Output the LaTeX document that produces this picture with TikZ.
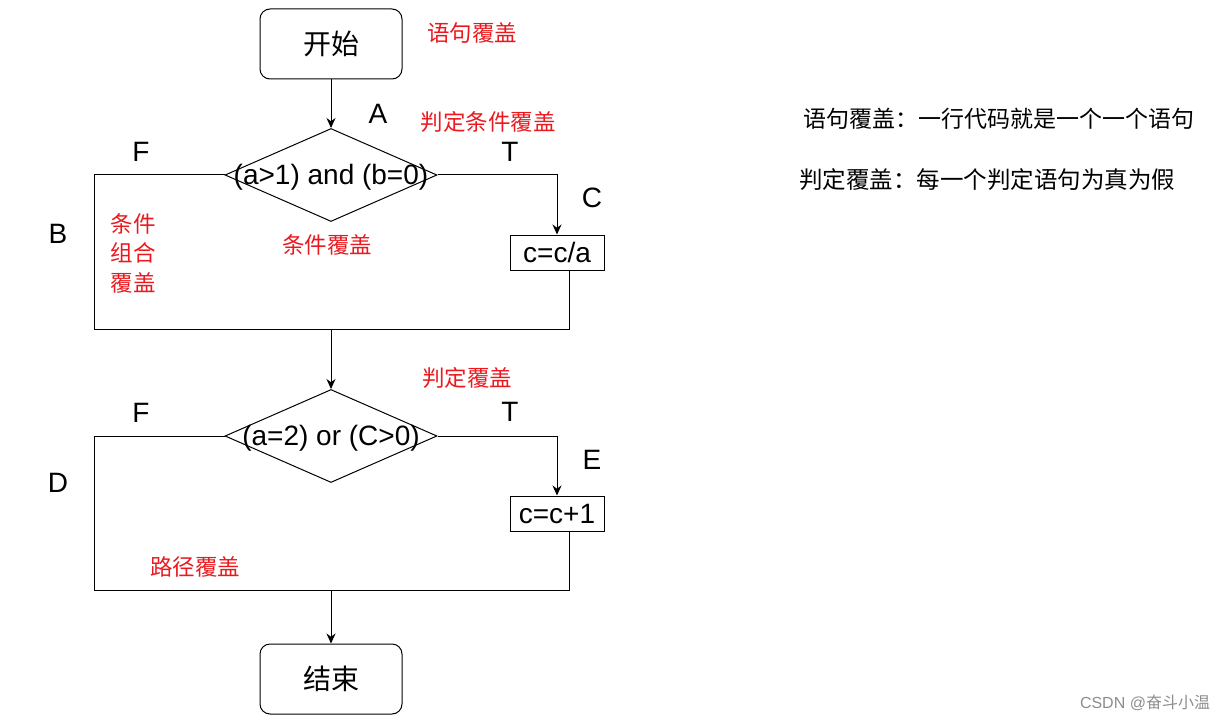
\documentclass[tikz,border=0pt]{standalone}
\usepackage{fontspec}
\setmainfont{Liberation Sans}
\newfontfamily\cjk{Noto Sans CJK SC}
\usetikzlibrary{arrows.meta, positioning, shapes.geometric}
\definecolor{notered}{RGB}{235,25,30}
\tikzset{
  lbl/.style={font=\fontsize{28}{32}\selectfont},
  note/.style={font=\cjk\fontsize{22.5}{29.5}\selectfont, text=notered, inner sep=0pt},
  terminal/.style={draw, rounded corners=10pt, minimum width=142pt, minimum height=70pt, font=\cjk\fontsize{28}{32}\selectfont, line width=1pt},
  decision/.style={draw, diamond, inner sep=0pt, minimum width=212pt, minimum height=93pt, line width=1pt},
  process/.style={draw, rectangle, minimum width=94pt, minimum height=35pt, inner sep=0pt, lbl, line width=1pt},
  arr/.style={-{Stealth[length=10pt,width=9pt]}, line width=1pt},
}

\begin{document}
\begin{tikzpicture}[x=1pt, y=-1pt]
  \useasboundingbox (0,0) rectangle (1230,722);
  % flow chart
  \node[terminal] (start) at (331,44) {开始};
  \node[decision, label={[lbl, yshift=-2pt]center:(a>1) and (b=0)}] (d1) at (331,175) {};
  \node[process] (ca) at (557,252.5) {c=c/a};
  \node[decision, label={[lbl, yshift=-2pt]center:(a=2) or (C>0)}] (d2) at (331,436) {};
  \node[process] (cb) at (557,513.5) {c=c+1};
  \node[terminal] (end) at (331,679) {结束};
  \coordinate (j1) at (331,329);
  \coordinate (l1) at (94,329);
  \coordinate (j2) at (331,590);
  \coordinate (l2) at (94,590);

  \draw[arr] (start) -- (d1);
  \draw[arr] (d1.east) -| (ca.north);
  \draw[line width=1pt] ([xshift=12pt]ca.south) |- (l1) |- (d1.west);
  \draw[arr] (j1) -- (d2);
  \draw[arr] (d2.east) -| (cb.north);
  \draw[line width=1pt] ([xshift=12pt]cb.south) |- (l2) |- (d2.west);
  \draw[arr] (j2) -- (end);

  % branch letters
  \node[lbl] (pa) at (378,114) {A};
  \node[lbl] (f1) at (141,152) {F};
  \node[lbl] (t1) at (510,152) {T};
  \node[lbl] (pc) at (592,198) {C};
  \node[lbl] (pb) at (58,234) {B};
  \node[lbl] (f2) at (141,413) {F};
  \node[lbl] (t2) at (510,412) {T};
  \node[lbl] (pe) at (592,460) {E};
  \node[lbl] (pd) at (58,483) {D};

  % coverage notes
  \node[note] (n1) at (472,33) {语句覆盖};
  \node[note] (n2) at (488,122) {判定条件覆盖};
  \node[note] (n3) at (327,245) {条件覆盖};
  \node[note, align=left] (n4) at (133,253) {条件\\组合\\覆盖};
  \node[note] (n5) at (467,378) {判定覆盖};
  \node[note] (n6) at (195,567) {路径覆盖};

  \node[anchor=west, inner sep=0pt, font=\cjk\fontsize{23}{26}\selectfont] (def1) at (803,119) {语句覆盖：一行代码就是一个一个语句};
  \node[anchor=west, inner sep=0pt, font=\cjk\fontsize{23.5}{26}\selectfont] (def2) at (799,180) {判定覆盖：每一个判定语句为真为假};

  \node[text=black!45, font=\fontsize{16}{18}\selectfont, inner sep=0pt] (mark) at (1145,703) {CSDN @{\cjk 奋斗小温}};
\end{tikzpicture}
\end{document}
